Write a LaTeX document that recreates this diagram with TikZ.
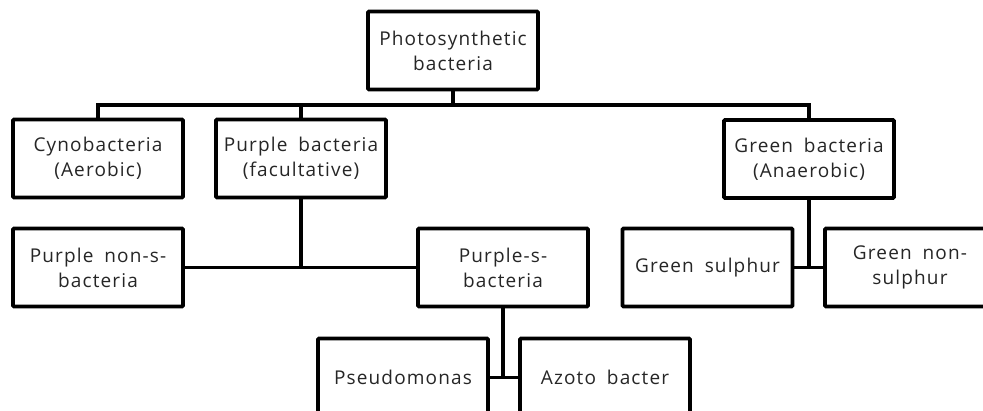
\documentclass[tikz,border=0pt]{standalone}
\usepackage{fontspec}
\setmainfont{Open Sans}[LetterSpace=6,WordSpace=1.8]
\begin{document}
\begin{tikzpicture}[x=1pt,y=-1pt,
  box/.style={draw=black,line width=3.6pt,fill=white,minimum width=170pt,minimum height=78pt,
    inner sep=0pt,align=center,text=black!85,font=\fontsize{19}{25}\selectfont,rounded corners=1pt},
  thickcon/.style={line width=3.6pt},
  thincon/.style={line width=2.2pt}]
\useasboundingbox (0,0) rectangle (983,410);
\clip (0,0) rectangle (983,410);
\node[box] (top) at (453,50.5) {Photosynthetic\\bacteria};
\node[box] (cyno) at (98,158.5) {Cynobacteria\\(Aerobic)};
\node[box] (purple) at (301,158.5) {Purple bacteria\\(facultative)};
\node[box] (green) at (809,159) {Green bacteria\\(Anaerobic)};
\node[box] (pnons) at (98,267.5) {Purple non-s-\\bacteria};
\node[box] (ps) at (503,267.5) {Purple-s-\\bacteria};
\node[box] (gs) at (707.5,267.5) {Green sulphur};
\node[box] (gns) at (910,267.5) {Green non-\\sulphur};
\node[box] (pseudo) at (403,377.5) {Pseudomonas};
\node[box] (azoto) at (605,377.5) {Azoto bacter};
\coordinate (bus) at (453,105);
\draw[thickcon] (top.south) -- (top.south |- bus);
\draw[thickcon] (cyno.north) -- (cyno.north |- bus) -- (green.north |- bus) -- (green.north);
\draw[thickcon] (purple.north) -- (purple.north |- bus);
\draw[thickcon] (purple.south) -- (purple.south |- pnons.east);
\draw[thincon] (pnons.east) -- (ps.west);
\draw[thickcon] (green.south) -- (green.south |- gs.east);
\draw[thincon] (gs.east) -- (gns.west);
\draw[thickcon] (ps.south) -- (ps.south |- pseudo.east);
\draw[thincon] (pseudo.east) -- (azoto.west);
\end{tikzpicture}
\end{document}
